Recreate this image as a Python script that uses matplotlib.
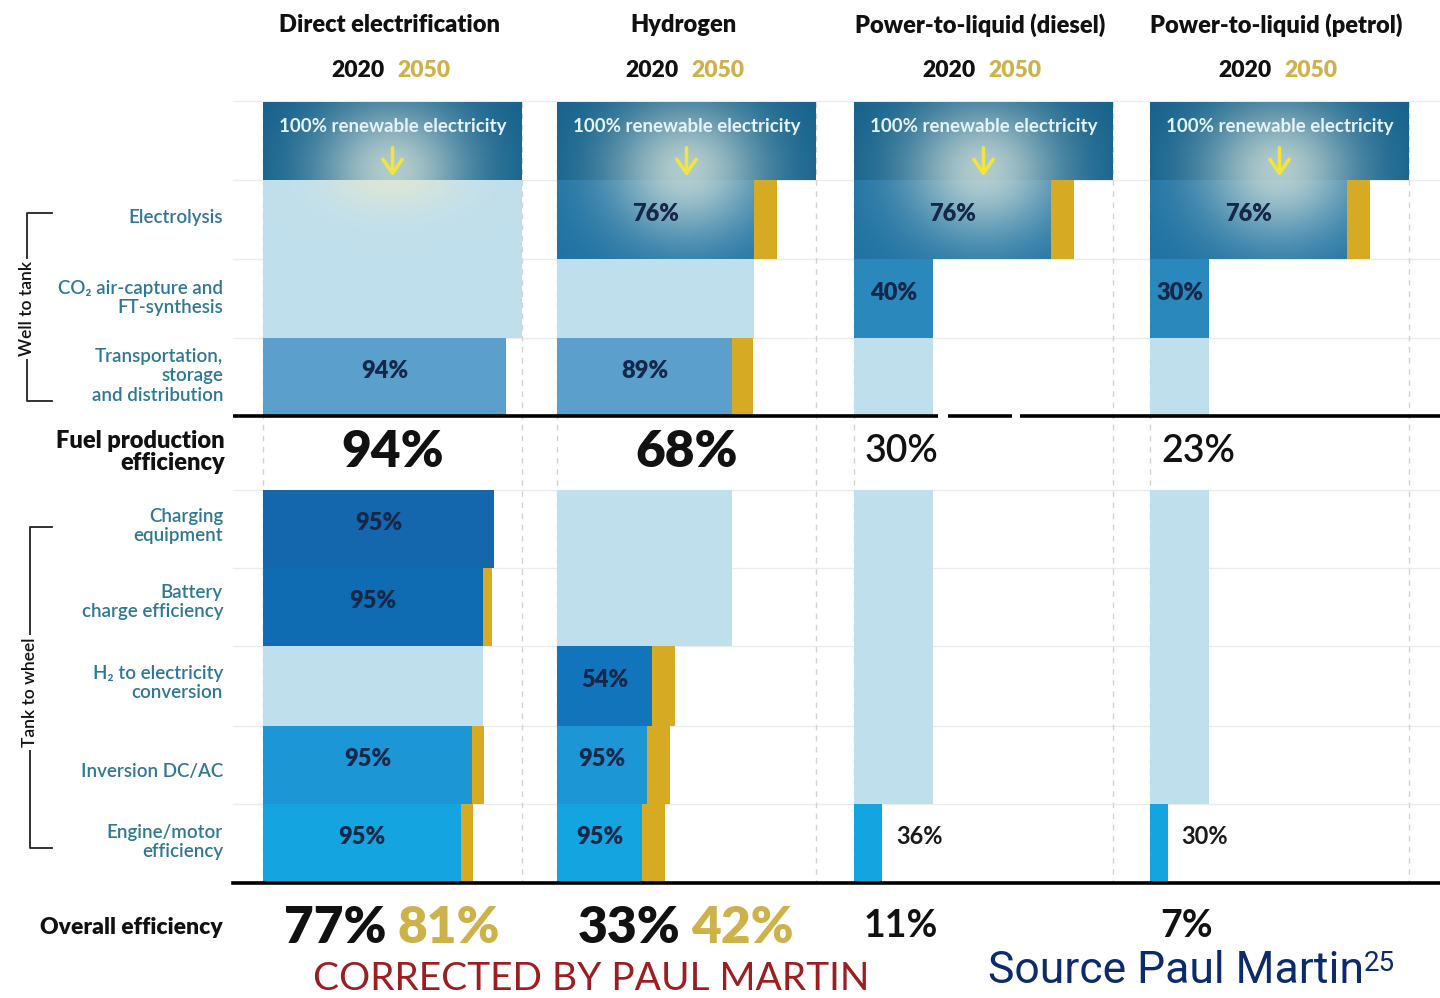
import numpy as np
import matplotlib.pyplot as plt
from matplotlib.patches import Rectangle, Polygon
from matplotlib.colors import to_rgb

plt.rcParams['font.family'] = ['Lato', 'DejaVu Sans']

pathways = ["Direct electrification", "Hydrogen",
            "Power-to-liquid (diesel)", "Power-to-liquid (petrol)"]
steps = ["Electrolysis", "CO\u2082 air-capture and\nFT-synthesis",
         "Transportation,\nstorage\nand distribution",
         "Charging\nequipment", "Battery\ncharge efficiency",
         "H\u2082 to electricity\nconversion", "Inversion DC/AC",
         "Engine/motor\nefficiency"]
years = ["2020", "2050"]

# step efficiencies per pathway (None = step not used)
direct_2020 = [None, None, 0.94, 0.95, 0.95, None, 0.95, 0.95]
hydrogen_2020 = [0.76, None, 0.89, None, None, 0.54, 0.95, 0.95]
diesel_2020 = [0.76, 0.40, None, None, None, None, None, 0.36]
petrol_2020 = [0.76, 0.30, None, None, None, None, None, 0.30]

direct_2050 = [None, None, 0.94, 0.95, 0.99, None, 0.965, 0.95]
hydrogen_2050 = [0.85, None, 0.89, None, None, 0.60, 0.96, 0.96]
diesel_2050 = [0.85, None, None, None, None, None, None, None]
petrol_2050 = [0.85, None, None, None, None, None, None, None]

eff_2020 = [direct_2020, hydrogen_2020, diesel_2020, petrol_2020]
eff_2050 = [direct_2050, hydrogen_2050, diesel_2050, petrol_2050]

# layout (pixels)
col_left = [263, 557, 854, 1150]
col_w = 259
band_top, band_bot = 102, 180
row_edges = [(180, 259), (259, 338), (338, 416),
             (490, 568), (568, 646), (646, 726), (726, 804), (804, 882)]
label_y = [217, 298, 376, 526, 602, 683, 772, 842]

step_colors = [None, "#2b88bd", "#5b9fcc", "#1467ad", "#0f6bb2",
               "#1274bb", "#1c96d5", "#14a4df"]
light = "#c0dfec"
gold = "#d6aa22"
gold_txt = "#cdb24a"
label_col = "#2f7895"
navy = "#14294a"
narrow = ["Liberation Sans Narrow", "Roboto", "DejaVu Sans"]

fig = plt.figure(figsize=(14.4, 9.98), dpi=100)
ax = fig.add_axes([0, 0, 1, 1])
ax.set_xlim(0, 1440)
ax.set_ylim(998, 0)
ax.axis("off")

# faint grid
for y in [101, 180, 259, 338, 490, 568, 646, 726, 804]:
    ax.plot([233, 1440], [y, y], color="#ebebeb", lw=1, zorder=0)
for x0 in col_left:
    for x in (x0, x0 + col_w):
        ax.plot([x, x], [102, 882], color="#d2d2d2", lw=1,
                ls=(0, (4, 4)), zorder=0)


def glow_img(x0, x1, y0, y1, cx, cy, rx, ry, top, bottom, hi, k):
    xs = np.linspace(x0, x1, int(x1 - x0))
    ys = np.linspace(y0, y1, int(y1 - y0))
    X, Y = np.meshgrid(xs, ys)
    g = k * np.exp(-(((X - cx) / rx) ** 2 + ((Y - cy) / ry) ** 2))
    base = np.where((Y < band_bot)[..., None], np.array(to_rgb(top)),
                    np.array(to_rgb(bottom)))
    return base * (1 - g[..., None]) + np.array(to_rgb(hi)) * g[..., None]


for c, name in enumerate(pathways):
    x0 = col_left[c]
    cx = x0 + col_w / 2
    e20, e50 = eff_2020[c], eff_2050[c]

    # renewable electricity band (+ electrolysis bar when used)
    if e20[0] is not None:
        w = e20[0] * col_w
        verts = [(x0, band_top), (x0 + col_w, band_top), (x0 + col_w, band_bot),
                 (x0 + w, band_bot), (x0 + w, 259), (x0, 259)]
    else:
        verts = [(x0, band_top), (x0 + col_w, band_top),
                 (x0 + col_w, band_bot), (x0, band_bot)]
    clip = Polygon(verts, closed=True, fc="none", ec="none")
    ax.add_patch(clip)
    img = glow_img(x0, x0 + col_w, band_top, 259, cx, 170, 78, 70,
                   "#14618c", "#1f72a3", "#d9e6dc", 0.8)
    im = ax.imshow(img, extent=[x0, x0 + col_w, 259, band_top],
                   aspect="auto", zorder=2, interpolation="bilinear")
    im.set_clip_path(clip)

    ax.text(cx, 126, "100% renewable electricity", ha="center", va="center",
            fontsize=13.5, fontweight="bold", color="#e4f3f8", zorder=4)
    ax.annotate("", xy=(cx, 179), xytext=(cx, 145), zorder=4,
                arrowprops=dict(arrowstyle="->,head_length=0.5,head_width=0.35",
                                color="#f4e53c", lw=2.5, mutation_scale=20))

    # column header
    ax.text(cx - 3, 25, name, ha="center", va="center", fontsize=17,
            fontweight="heavy", color="#111111")
    ax.text(cx - 8, 70, years[0], ha="right", va="center", fontsize=16.5,
            fontweight="heavy", color="#111111")
    ax.text(cx + 5, 70, years[1], ha="left", va="center", fontsize=16.5,
            fontweight="heavy", color=gold_txt)

    cum20, cum50 = 1.0, 1.0
    fuel20 = None
    for i, (a, b) in enumerate(zip(e20, e50)):
        y0, y1 = row_edges[i]
        if i == 3:
            fuel20 = cum20
        if a is None:
            ax.add_patch(Rectangle((x0, y0), cum20 * col_w, y1 - y0,
                                   fc=light, ec="none", zorder=1))
            continue
        cum20 *= a
        cum50 = cum50 * b if (cum50 is not None and b is not None) else None
        w20 = cum20 * col_w
        if i > 0:
            ax.add_patch(Rectangle((x0, y0), w20, y1 - y0,
                                   fc=step_colors[i], ec="none", zorder=1))
        if cum50 is not None and cum50 > cum20:
            ax.add_patch(Rectangle((x0 + w20, y0), (cum50 - cum20) * col_w,
                                   y1 - y0, fc=gold, ec="none", zorder=3))
        lbl = f"{round(a * 100)}%"
        if w20 > 45:
            ax.text(x0 + w20 / 2, (y0 + y1) / 2 - 6, lbl, ha="center",
                    va="center", fontsize=17, fontweight="heavy",
                    color=navy, zorder=5)
        else:
            ax.text(x0 + w20 + 14, (y0 + y1) / 2 - 7, lbl, ha="left",
                    va="center", fontsize=17, fontweight="bold",
                    color="#1a1a1a", zorder=5)

    # direct: faint warm glow spilling into the unused electrolysis row
    if e20[0] is None:
        xs = np.linspace(x0, x0 + col_w, col_w)
        ys = np.linspace(180, 259, 79)
        X, Y = np.meshgrid(xs, ys)
        a = 0.55 * np.exp(-(((X - cx) / 65) ** 2 + ((Y - 180) / 32) ** 2))
        ov = np.zeros(X.shape + (4,))
        ov[..., :3] = to_rgb("#f2ecc8")
        ov[..., 3] = a
        ax.imshow(ov, extent=[x0, x0 + col_w, 259, 180], aspect="auto",
                  zorder=2, interpolation="bilinear")

    # efficiency totals
    total20 = cum20
    if c < 2:
        ax.text(cx, 452, f"{round(fuel20 * 100)}%", ha="center", va="center",
                fontsize=37, fontweight="heavy", color="#111111")
        ax.text(cx - 6, 928, f"{round(total20 * 100)}%", ha="right",
                va="center", fontsize=37, fontweight="heavy", color="#111111")
        ax.text(cx + 5, 928, f"{round(cum50 * 100)}%", ha="left",
                va="center", fontsize=37, fontweight="heavy", color=gold_txt)
    else:
        ax.text(x0 + 11, 452, f"{round(fuel20 * 100)}%", ha="left",
                va="center", fontsize=27, fontweight="semibold",
                color="#111111")
        ax.text(x0 + 10, 926, f"{round(total20 * 100)}%", ha="left",
                va="center", fontsize=27, fontweight="bold", color="#111111")

# thick separators
for xa, xb in [(233, 938), (948, 1012), (1020, 1440)]:
    ax.plot([xa, xb], [416, 416], color="black", lw=2.6, zorder=6,
            solid_capstyle="butt")
ax.plot([233, 1440], [883, 883], color="black", lw=2.6, zorder=6)

# row labels
for s, y in zip(steps, label_y):
    ax.text(223, y, s, ha="right", va="center", fontsize=13.5,
            fontweight="semibold", color=label_col, linespacing=1.15)
ax.text(225, 452, "Fuel production\nefficiency", ha="right", va="center",
        fontsize=17, fontweight="heavy", color="#111111", linespacing=0.95)
ax.text(223, 928, "Overall efficiency", ha="right", va="center",
        fontsize=16.5, fontweight="heavy", color="#111111")

# brackets
for x, ya, yb, lbl in [(27, 213, 401, "Well to tank"),
                       (30, 527, 848, "Tank to wheel")]:
    ax.plot([52, x, x, 52], [ya, ya, yb, yb], color="#222222", lw=1.3)
    ax.text(x, (ya + yb) / 2 + (2 if x == 27 else 5), lbl, rotation=90,
            ha="center", va="center", fontsize=12.5, fontweight="semibold",
            color="#111111", bbox=dict(fc="white", ec="none", pad=2))

ax.text(591, 997, "CORRECTED BY PAUL MARTIN", ha="center", va="bottom",
        fontsize=28, color="#9c1d22")
src = ax.text(988, 983, "Source Paul Martin", ha="left", va="baseline",
              fontsize=32, color="#0d2b6b", family=narrow)
ax.annotate("25", xy=(1, 1), xycoords=src, ha="left", va="top",
            fontsize=20, color="#0d2b6b", family=narrow)

fig.savefig("out.png", dpi=100)
